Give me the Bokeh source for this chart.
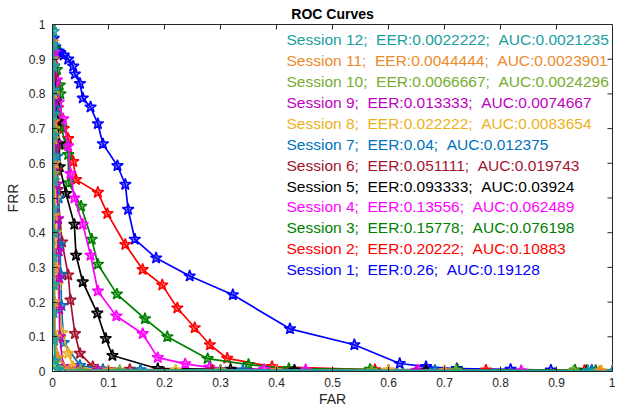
from bokeh.plotting import figure
from bokeh.models import Label, Range1d, FixedTicker, Title
from bokeh.embed import file_html
from bokeh.resources import INLINE

# ---------------- data ----------------
SESSIONS = [1, 2, 3, 4, 5, 6, 7, 8, 9, 10, 11, 12]
EER = ["0.26", "0.20222", "0.15778", "0.13556", "0.093333", "0.051111",
       "0.04", "0.022222", "0.013333", "0.0066667", "0.0044444", "0.0022222"]
AUC = ["0.19128", "0.10883", "0.076198", "0.062489", "0.03924", "0.019743",
       "0.012375", "0.0083654", "0.0074667", "0.0024296", "0.0023901", "0.0021235"]

FAR1 = [0.0, 0.002, 0.005, 0.009, 0.014, 0.020, 0.028, 0.037, 0.040, 0.049, 0.054, 0.068, 0.081,
        0.090, 0.116, 0.130, 0.135, 0.147, 0.185, 0.245, 0.322, 0.424, 0.539, 0.620, 0.667, 0.722,
        0.818, 0.890, 0.963, 1.0]
FRR1 = [1.0, 0.96, 0.935, 0.923, 0.918, 0.912, 0.900, 0.880, 0.857, 0.830, 0.788, 0.762, 0.714,
        0.656, 0.593, 0.539, 0.467, 0.381, 0.327, 0.275, 0.221, 0.123, 0.077, 0.023, 0.014, 0.008,
        0.006, 0.004, 0.003, 0.0]

FAR2 = [0.0, 0.003, 0.006, 0.010, 0.014, 0.020, 0.028, 0.037, 0.042, 0.081, 0.098, 0.130, 0.161,
        0.196, 0.223, 0.254, 0.281, 0.312, 0.392, 0.576, 0.774, 0.950, 1.0]
FRR2 = [1.0, 0.90, 0.82, 0.76, 0.72, 0.70, 0.671, 0.605, 0.553, 0.516, 0.455, 0.366, 0.294,
        0.249, 0.183, 0.126, 0.077, 0.038, 0.014, 0.005, 0.004, 0.003, 0.0]

FAR3 = [0.0, 0.004, 0.008, 0.013, 0.014, 0.016, 0.023, 0.028, 0.029, 0.051, 0.070, 0.081, 0.115,
        0.165, 0.205, 0.277, 0.350, 0.422, 0.567, 0.723, 0.933, 0.970, 1.0]
FRR3 = [1.0, 0.93, 0.87, 0.825, 0.80, 0.705, 0.653, 0.625, 0.544, 0.476, 0.381, 0.309, 0.223,
        0.152, 0.100, 0.037, 0.020, 0.008, 0.006, 0.005, 0.004, 0.003, 0.0]

FAR4 = [0.0, 0.004, 0.008, 0.011, 0.019, 0.028, 0.032, 0.039, 0.054, 0.068, 0.081, 0.114, 0.161,
        0.188, 0.237, 0.280, 0.378, 0.452, 0.653, 0.837, 1.0]
FRR4 = [1.0, 0.92, 0.84, 0.776, 0.728, 0.650, 0.570, 0.500, 0.424, 0.335, 0.232, 0.160, 0.109,
        0.040, 0.022, 0.012, 0.006, 0.005, 0.004, 0.002, 0.0]

FAR5 = [0.0, 0.003, 0.006, 0.009, 0.012, 0.013, 0.024, 0.039, 0.042, 0.054, 0.080, 0.095, 0.107,
        0.188, 0.318, 0.432, 0.667, 0.954, 1.0]
FRR5 = [1.0, 0.88, 0.78, 0.72, 0.656, 0.590, 0.513, 0.424, 0.335, 0.258, 0.168, 0.095, 0.046,
        0.008, 0.006, 0.004, 0.003, 0.002, 0.0]

FAR6 = [0.0, 0.002, 0.004, 0.006, 0.008, 0.009, 0.017, 0.028, 0.032, 0.040, 0.049, 0.072, 0.138,
        0.285, 0.600, 1.0]
FRR6 = [1.0, 0.85, 0.72, 0.64, 0.58, 0.524, 0.373, 0.278, 0.206, 0.109, 0.052, 0.014, 0.006,
        0.004, 0.003, 0.0]

FAR7 = [0.0, 0.002, 0.005, 0.008, 0.011, 0.013, 0.015, 0.016, 0.020, 0.049, 0.090, 0.157, 0.340,
        0.683, 0.963, 1.0]
FRR7 = [1.0, 0.88, 0.76, 0.62, 0.50, 0.366, 0.28, 0.19, 0.083, 0.017, 0.006, 0.005, 0.004,
        0.003, 0.002, 0.0]

FAR8 = [0.0, 0.001, 0.002, 0.003, 0.004, 0.005, 0.006, 0.009, 0.017, 0.028, 0.037, 0.081, 0.220,
        0.600, 0.980, 1.0]
FRR8 = [1.0, 0.90, 0.80, 0.70, 0.60, 0.50, 0.40, 0.25, 0.112, 0.052, 0.014, 0.005, 0.004,
        0.003, 0.002, 0.0]

FAR9 = [0.0, 0.002, 0.004, 0.006, 0.008, 0.010, 0.011, 0.012, 0.012, 0.013, 0.019, 0.045, 0.081,
        0.300, 0.650, 1.0]
FRR9 = [1.0, 0.90, 0.78, 0.66, 0.54, 0.44, 0.347, 0.27, 0.18, 0.100, 0.014, 0.006, 0.004,
        0.003, 0.002, 0.0]

FAR10 = [0.0, 0.0, 0.001, 0.001, 0.002, 0.002, 0.003, 0.004, 0.006, 0.010, 0.050, 0.120, 0.300,
         0.570, 0.720, 0.930, 1.0]
FRR10 = [1.0, 0.90, 0.80, 0.70, 0.57, 0.40, 0.25, 0.10, 0.04, 0.01, 0.004, 0.003, 0.003,
         0.002, 0.002, 0.001, 0.0]

FAR11 = [0.0, 0.001, 0.001, 0.002, 0.002, 0.002, 0.003, 0.003, 0.003, 0.004, 0.004, 0.005, 0.010,
         0.030, 0.100, 0.400, 0.700, 0.977, 1.0]
FRR11 = [1.0, 0.95, 0.88, 0.80, 0.72, 0.67, 0.60, 0.55, 0.45, 0.30, 0.20, 0.10, 0.04,
         0.005, 0.003, 0.002, 0.002, 0.001, 0.0]

FAR12 = [0.0, 0.002, 0.002, 0.002, 0.002, 0.002, 0.002, 0.002, 0.002, 0.002, 0.002, 0.002, 0.002,
         0.002, 0.003, 0.004, 0.010, 0.956, 1.0]
FRR12 = [1.0, 0.98, 0.94, 0.88, 0.81, 0.74, 0.68, 0.62, 0.55, 0.47, 0.40, 0.33, 0.25,
         0.17, 0.09, 0.03, 0.005, 0.002, 0.0]

FAR = [FAR1, FAR2, FAR3, FAR4, FAR5, FAR6, FAR7, FAR8, FAR9, FAR10, FAR11, FAR12]
FRR = [FRR1, FRR2, FRR3, FRR4, FRR5, FRR6, FRR7, FRR8, FRR9, FRR10, FRR11, FRR12]

TICKS = [0, 0.1, 0.2, 0.3, 0.4, 0.5, 0.6, 0.7, 0.8, 0.9, 1]
TICK_LABELS = ["0", "0.1", "0.2", "0.3", "0.4", "0.5", "0.6", "0.7", "0.8", "0.9", "1"]

# ---------------- style ----------------
COLORS = ["#0000FF", "#FF0000", "#008000", "#FF00FF", "#000000", "#A2142F",
          "#0072BD", "#EDB120", "#BF00BF", "#77AC30", "#EC8A2C", "#18A0A0"]
FONT = "Liberation Sans"
AX = "#262626"

W, H = 615, 409
FL, FR, FT, FB = 52, 612, 22, 371   # frame edges in pixels
FW, FH = float(FR - FL), float(FB - FT)
TICK_LEN = 5.0

p = figure(width=W, height=H, output_backend="svg", toolbar_location=None,
           x_range=Range1d(0, 1), y_range=Range1d(0, 1),
           min_border_left=FL, min_border_right=W - FR,
           min_border_top=FT, min_border_bottom=H - FB)
p.title = Title(text="ROC Curves", align="center", text_font=FONT, text_font_size="14px",
                text_font_style="bold", text_color="#000000", standoff=6)
p.grid.visible = False
p.outline_line_color = AX
p.background_fill_color = "white"
p.border_fill_color = "white"

for ax in (p.xaxis[0], p.yaxis[0]):
    ax.ticker = FixedTicker(ticks=TICKS)
    ax.major_tick_in = int(TICK_LEN)
    ax.major_tick_out = 0
    ax.minor_tick_line_color = None
    ax.axis_line_color = AX
    ax.major_tick_line_color = AX
    ax.major_label_overrides = {t: l for t, l in zip(TICKS, TICK_LABELS)}
    ax.major_label_text_font = FONT
    ax.major_label_text_font_size = "12px"
    ax.major_label_text_color = AX
    ax.axis_label_text_font = FONT
    ax.axis_label_text_font_size = "14px"
    ax.axis_label_text_font_style = "normal"
    ax.axis_label_text_color = AX

p.xaxis.axis_label = "FAR"
p.yaxis.axis_label = "FRR"
p.xaxis.major_label_standoff = 6
p.xaxis.axis_label_standoff = 1
p.yaxis.major_label_standoff = 7
p.yaxis.axis_label_standoff = 5

# inward ticks on the top and right edges of the box
p.segment(x0=TICKS, y0=[1.0] * len(TICKS), x1=TICKS, y1=[1.0 - TICK_LEN / FH] * len(TICKS),
          line_color=AX, line_width=1)
p.segment(x0=[1.0] * len(TICKS), y0=TICKS, x1=[1.0 - TICK_LEN / FW] * len(TICKS), y1=TICKS,
          line_color=AX, line_width=1)

for far, frr, c in zip(FAR, FRR, COLORS):
    p.line(far, frr, line_color=c, line_width=1.7)
    p.scatter(far, frr, marker="star", size=12, line_color=c, fill_color=c,
              fill_alpha=0.45, line_width=1.5)

# legend (text-only, colored)
leg_x = (286 - FL) / FW
SP = " \u00a0"
for k in range(len(SESSIONS)):
    i = len(SESSIONS) - 1 - k
    y_px = 37.5 + 21.0 * k
    y = 1.0 - (y_px - FT) / FH
    txt = f"Session {SESSIONS[i]};{SP}EER:{EER[i]};{SP}AUC:{AUC[i]}"
    p.add_layout(Label(x=leg_x, y=y, text=txt, text_align="left", text_baseline="middle",
                       text_font=FONT, text_font_size="15.5px", text_color=COLORS[i]))

open("out.html", "w").write(file_html(p, INLINE))
